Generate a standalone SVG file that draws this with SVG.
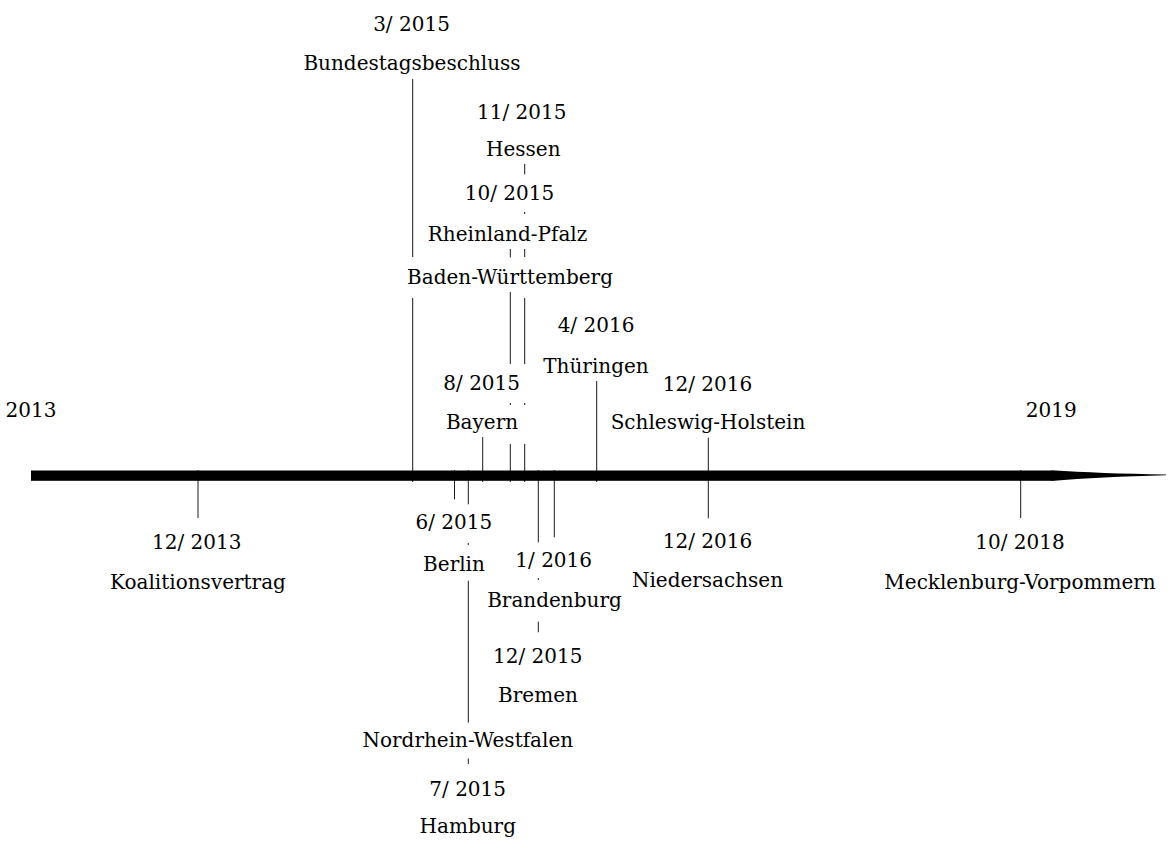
<svg xmlns="http://www.w3.org/2000/svg" width="1168" height="841" viewBox="0 0 1168 841">
<style>
text{font-family:"DejaVu Serif","Liberation Serif",serif;font-size:20px;fill:#000;text-anchor:middle}
.c line{stroke:#000;stroke-width:0.9}
</style>
<rect width="1168" height="841" fill="#fff"/>
<g id="connectors" class="c">
<line x1="198" y1="470" x2="198" y2="518"/>
<line x1="412.7" y1="79" x2="412.7" y2="257"/>
<line x1="412.7" y1="298" x2="412.7" y2="482"/>
<line x1="482.7" y1="437" x2="482.7" y2="482"/>
<line x1="510.3" y1="249" x2="510.3" y2="257.5"/>
<line x1="510.3" y1="292" x2="510.3" y2="364"/>
<line x1="510.3" y1="403" x2="510.3" y2="405"/>
<line x1="510.3" y1="444" x2="510.3" y2="482"/>
<line x1="524.7" y1="164" x2="524.7" y2="174.3"/>
<line x1="524.7" y1="212" x2="524.7" y2="214"/>
<line x1="524.7" y1="249" x2="524.7" y2="257"/>
<line x1="524.7" y1="298" x2="524.7" y2="364"/>
<line x1="524.7" y1="403" x2="524.7" y2="405"/>
<line x1="524.7" y1="444" x2="524.7" y2="482"/>
<line x1="596.7" y1="381" x2="596.7" y2="482"/>
<line x1="708.3" y1="437.7" x2="708.3" y2="518.3"/>
<line x1="1020.7" y1="470" x2="1020.7" y2="518"/>
<line x1="454.5" y1="470" x2="454.5" y2="499.3"/>
<line x1="468.3" y1="470" x2="468.3" y2="504.3"/>
<line x1="468.3" y1="543" x2="468.3" y2="545"/>
<line x1="468.3" y1="580.7" x2="468.3" y2="722.7"/>
<line x1="468.3" y1="758.5" x2="468.3" y2="764"/>
<line x1="538.3" y1="470" x2="538.3" y2="542.3"/>
<line x1="538.3" y1="578" x2="538.3" y2="580"/>
<line x1="538.3" y1="621.7" x2="538.3" y2="632.3"/>
<line x1="554.3" y1="470" x2="554.3" y2="537.3"/>
</g>
<g id="timeline">
<rect x="31" y="470.5" width="1021" height="10.3" fill="#000"/>
<path d="M1051.5,470.3 Q1100,473.5 1166,474.6 L1166,475.2 Q1100,476.8 1051.5,481 Z" fill="#000"/>
</g>
<g id="year-2013"><text x="31" y="417">2013</text></g>
<g id="year-2019"><text x="1051.3" y="416.7">2019</text></g>
<g id="bundestagsbeschluss"><text x="411.5" y="31">3/ 2015</text><text x="412" y="70">Bundestagsbeschluss</text></g>
<g id="hessen"><text x="521.7" y="119">11/ 2015</text><text x="523.3" y="156">Hessen</text></g>
<g id="rheinland-pfalz"><text x="509.5" y="200">10/ 2015</text><text x="507.5" y="240.5">Rheinland-Pfalz</text></g>
<g id="baden-wuerttemberg"><text x="510" y="284.3">Baden-Württemberg</text></g>
<g id="thueringen"><text x="596" y="331.7">4/ 2016</text><text x="596" y="372.7">Thüringen</text></g>
<g id="bayern"><text x="481.7" y="390">8/ 2015</text><text x="482" y="429.3">Bayern</text></g>
<g id="schleswig-holstein"><text x="707.5" y="390.7">12/ 2016</text><text x="708" y="429.3">Schleswig-Holstein</text></g>
<g id="koalitionsvertrag"><text x="196.7" y="549.3">12/ 2013</text><text x="198" y="589">Koalitionsvertrag</text></g>
<g id="mecklenburg-vorpommern"><text x="1020" y="549.3">10/ 2018</text><text x="1020" y="589">Mecklenburg-Vorpommern</text></g>
<g id="niedersachsen"><text x="707.5" y="548.3">12/ 2016</text><text x="707.5" y="587.3">Niedersachsen</text></g>
<g id="berlin"><text x="453.8" y="529">6/ 2015</text><text x="454" y="571">Berlin</text></g>
<g id="brandenburg"><text x="553.7" y="567.3">1/ 2016</text><text x="554.5" y="606.7">Brandenburg</text></g>
<g id="bremen"><text x="537.7" y="663.3">12/ 2015</text><text x="538" y="701.7">Bremen</text></g>
<g id="nordrhein-westfalen"><text x="467.8" y="746.7">Nordrhein-Westfalen</text></g>
<g id="hamburg"><text x="467.7" y="796">7/ 2015</text><text x="467.8" y="833.3">Hamburg</text></g>
</svg>
